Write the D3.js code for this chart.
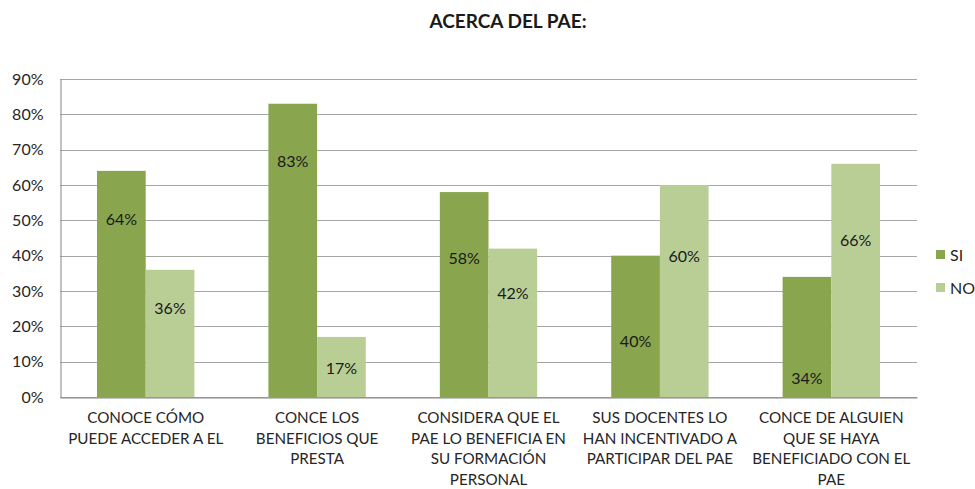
<!DOCTYPE html>
<html>
<head>
<meta charset="utf-8">
<script src="https://cdn.jsdelivr.net/npm/d3@7"></script>
<style>
  body { margin: 0; background: #fff; }
  text { font-family: Lato, "Open Sans", sans-serif; fill: #1a1a1a; }
  .axis text { font-size: 16px; fill: #262626; }
</style>
</head>
<body>
<div id="chart"></div>
<script>
var categories = [
  ["CONOCE CÓMO", "PUEDE ACCEDER A EL"],
  ["CONCE LOS", "BENEFICIOS QUE", "PRESTA"],
  ["CONSIDERA QUE EL", "PAE LO BENEFICIA EN", "SU FORMACIÓN", "PERSONAL"],
  ["SUS DOCENTES LO", "HAN INCENTIVADO A", "PARTICIPAR DEL PAE"],
  ["CONCE DE ALGUIEN", "QUE SE HAYA", "BENEFICIADO CON EL", "PAE"]
];
var seriesNames = ["SI", "NO"];
var siValues = [64, 83, 58, 40, 34];
var noValues = [36, 17, 42, 60, 66];
// where Excel put each data label (in % units)
var siLabelAt = [50.4, 66.8, 39.3, 15.6, 5.4];
var noLabelAt = [25.2, 8.2, 29.2, 39.9, 44.2];
var yTicks = [0, 10, 20, 30, 40, 50, 60, 70, 80, 90];
var colors = ["#89a54e", "#b8ce95"];

var width = 975, height = 489;
var margin = {top: 79, left: 60, right: 58, bottom: 92};

var svg = d3.select("#chart").append("svg")
  .attr("width", width).attr("height", height);

var x0 = d3.scaleBand()
  .domain(d3.range(categories.length))
  .range([margin.left, width - margin.right])
  .paddingInner(0.432).paddingOuter(0.216);

var x1 = d3.scaleBand()
  .domain([0, 1])
  .range([0, x0.bandwidth()]);

var y = d3.scaleLinear()
  .domain([0, 90])
  .range([height - margin.bottom, margin.top]);

// gridlines
svg.append("g")
  .selectAll("line")
  .data(yTicks)
  .enter().append("line")
    .attr("x1", margin.left).attr("x2", width - margin.right)
    .attr("y1", function(d) { return Math.round(y(d)) + 0.5; })
    .attr("y2", function(d) { return Math.round(y(d)) + 0.5; })
    .attr("stroke", "#a6a6a6").attr("stroke-width", 1);

// y axis
var yAxis = svg.append("g")
  .attr("class", "axis")
  .attr("transform", "translate(" + (margin.left + 0.5) + ",0)")
  .call(d3.axisLeft(y).tickValues(yTicks).tickSize(0).tickPadding(17)
    .tickFormat(function(d) { return d + "%"; }));
yAxis.select(".domain").attr("stroke", "#868686");

var series = [siValues, noValues];
var labelAt = [siLabelAt, noLabelAt];

series.forEach(function(vals, s) {
  svg.append("g").selectAll("rect")
    .data(vals)
    .enter().append("rect")
      .attr("x", function(d, i) { return x0(i) + x1(s); })
      .attr("y", function(d) { return y(d); })
      .attr("width", x1.bandwidth())
      .attr("height", function(d) { return y(0) - y(d); })
      .attr("fill", colors[s]);

  svg.append("g").selectAll("text")
    .data(vals)
    .enter().append("text")
      .attr("x", function(d, i) { return x0(i) + x1(s) + x1.bandwidth() / 2; })
      .attr("y", function(d, i) { return y(labelAt[s][i]); })
      .attr("dy", "0.35em")
      .attr("text-anchor", "middle")
      .style("font-size", "16px")
      .text(function(d) { return d + "%"; });
});

// x axis
var xAxis = svg.append("g")
  .attr("class", "axis")
  .attr("transform", "translate(0," + (Math.round(y(0)) + 0.5) + ")")
  .call(d3.axisBottom(x0).tickSize(0).tickFormat(""));
xAxis.select(".domain").attr("stroke", "#868686");

svg.append("g").selectAll("text")
  .data(categories)
  .enter().append("text")
    .attr("class", "xlabel")
    .attr("text-anchor", "middle")
    .attr("transform", function(d, i) {
      return "translate(" + (x0(i) + x0.bandwidth() / 2) + "," + (y(0) + 26) + ")";
    })
    .style("font-size", "15.2px")
    .style("fill", "#262626")
    .each(function(lines) {
      d3.select(this).selectAll("tspan")
        .data(lines)
        .enter().append("tspan")
          .attr("x", 0)
          .attr("y", function(d, k) { return k * 20.7; })
          .text(function(d) { return d; });
    });

// title
svg.append("text")
  .attr("x", 508).attr("y", 28)
  .attr("text-anchor", "middle")
  .style("font-size", "19px")
  .style("font-weight", "bold")
  .text("ACERCA DEL PAE:");

// legend
var legend = svg.append("g").selectAll("g")
  .data(seriesNames)
  .enter().append("g")
    .attr("transform", function(d, i) { return "translate(936," + (250 + i * 33) + ")"; });
legend.append("rect")
  .attr("width", 9).attr("height", 9)
  .attr("fill", function(d, i) { return colors[i]; });
legend.append("text")
  .attr("x", 14).attr("y", 5).attr("dy", "0.35em")
  .style("font-size", "16px")
  .style("fill", "#262626")
  .text(function(d) { return d; });
</script>
</body>
</html>
